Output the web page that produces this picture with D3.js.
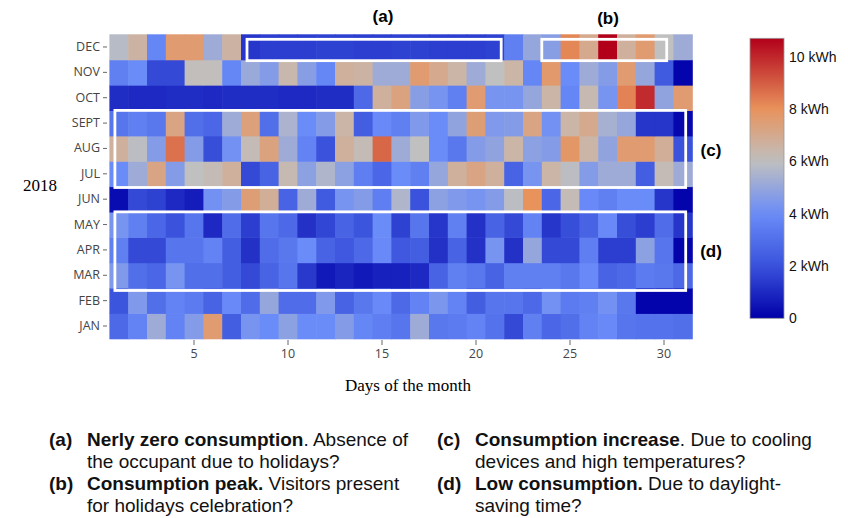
<!DOCTYPE html>
<html>
<head>
<meta charset="utf-8">
<script src="https://cdn.jsdelivr.net/npm/d3@7"></script>
<style>
  html, body { margin: 0; padding: 0; background: #fff; }
  svg { display: block; }
</style>
</head>
<body>
<svg id="chart" width="848" height="518"></svg>
<script>
// ---------- DATA ----------
const months = ["JAN","FEB","MAR","APR","MAY","JUN","JUL","AUG","SEPT","OCT","NOV","DEC"];
const days = d3.range(1, 32);
const xTicks = [5, 10, 15, 20, 25, 30];
const legendTicks = [0, 2, 4, 6, 8, 10];

const jan = [2.8,3.7,5.2,3.7,4.6,7.6,2.4,4.3,4.0,4.8,4.0,4.0,4.6,3.8,3.5,3.2,5.2,3.3,3.4,3.7,3.1,1.8,3.6,2.7,3.0,3.7,3.9,3.2,3.1,3.1,3.0];
const feb = [2.1,4.5,3.0,3.7,3.4,2.6,3.9,2.9,5.0,2.9,2.9,4.5,2.6,3.3,3.9,2.8,3.7,4.4,3.7,2.4,3.2,3.2,2.8,4.2,3.4,3.6,4.2,3.3,0.1,0.1,0.1];
const mar = [4.5,3.0,2.7,4.3,3.0,3.0,2.4,1.8,2.6,3.2,1.4,0.6,0.9,0.6,0.8,0.8,1.0,2.6,3.6,3.3,2.6,3.6,3.6,3.6,3.3,3.9,2.6,2.8,3.4,3.3,2.8];
const apr = [3.6,1.8,1.8,3.2,3.2,3.7,2.4,1.2,2.9,3.3,4.0,2.6,2.2,2.8,3.9,2.2,2.4,1.2,2.6,1.2,4.3,1.2,5.0,1.8,1.8,3.5,1.5,1.5,4.8,3.2,0.1];
const may = [4.3,3.6,2.7,2.0,3.2,1.0,2.9,1.5,3.2,2.8,1.2,1.7,2.6,2.1,4.0,1.6,3.2,1.3,3.6,1.2,2.6,1.8,3.7,1.3,1.9,2.6,3.9,1.9,1.5,2.9,1.3];
const jun = [0.3,1.8,1.6,1.0,0.7,4.2,4.6,7.5,6.8,2.6,5.2,2.3,4.3,4.6,3.5,5.6,2.0,4.8,4.5,4.3,4.6,5.9,8.0,2.7,6.2,3.9,3.6,4.0,4.0,1.3,0.1];
const jul = [4.0,5.2,7.2,4.6,6.0,6.2,6.7,1.8,2.6,6.3,4.8,5.6,4.8,3.5,2.7,4.0,3.6,5.0,6.7,7.2,6.7,2.6,4.3,6.5,5.9,4.6,5.2,5.2,2.4,6.2,5.2];
const aug = [6.7,5.9,4.6,8.6,4.6,1.9,4.2,6.2,7.3,5.2,3.7,2.0,6.7,6.2,8.8,5.2,6.0,4.0,3.3,4.6,4.9,6.5,4.8,4.6,7.8,6.5,4.9,7.6,7.6,6.8,2.0];
const sep = [3.2,3.6,3.3,7.2,3.0,2.7,5.2,7.4,3.0,5.5,4.0,4.6,6.5,2.4,3.9,3.6,4.5,4.0,4.9,7.5,4.5,4.6,7.2,4.2,6.5,7.0,5.4,5.0,1.3,1.3,0.2];
const oct = [1.1,1.0,1.0,1.1,1.1,1.0,1.1,1.1,1.1,1.0,1.0,1.1,1.1,2.8,6.7,7.3,4.7,4.3,3.6,7.6,4.3,4.3,5.0,6.5,3.8,6.3,4.3,8.3,9.9,4.9,7.6];
const nov = [3.6,4.0,1.8,1.8,6.1,6.1,3.8,5.1,4.6,6.4,4.7,3.8,6.7,6.6,5.2,5.2,7.6,7.0,6.5,5.2,6.0,6.5,3.8,7.7,4.0,5.2,4.6,7.6,5.0,2.3,0.1];
const dec = [5.8,6.6,3.8,7.6,7.6,5.2,6.6,1.3,1.5,1.5,1.5,1.6,1.6,1.5,1.5,1.6,1.6,1.5,1.5,1.5,1.6,3.6,5.0,4.7,8.2,7.0,10.7,6.7,7.6,6.0,5.2];

const monthValues = [jan, feb, mar, apr, may, jun, jul, aug, sep, oct, nov, dec];

// annotation boxes: label, first/last day, top/bottom month
const boxes = [
  {id: "(a)", d0: 8,  d1: 21, m0: "DEC",  m1: "DEC"},
  {id: "(b)", d0: 24, d1: 30, m0: "DEC",  m1: "DEC"},
  {id: "(c)", d0: 1,  d1: 31, m0: "SEPT", m1: "JUL"},
  {id: "(d)", d0: 1,  d1: 31, m0: "MAY",  m1: "MAR"}
];

const notes = [
  {id: "(a)", bold: "Nerly zero consumption", rest: ". Absence of", line2: "the occupant due to holidays?"},
  {id: "(b)", bold: "Consumption peak.", rest: " Visitors present", line2: "for holidays celebration?"},
  {id: "(c)", bold: "Consumption increase", rest: ". Due to cooling", line2: "devices and high temperatures?"},
  {id: "(d)", bold: "Low consumption.", rest: " Due to daylight-", line2: "saving time?"}
];

// ---------- BUILD ----------
const cells = [];
months.forEach((m, i) => days.forEach((d, j) => cells.push({month: m, day: d, value: monthValues[i][j]})));

const svg = d3.select("#chart");

const x = d3.scaleBand().domain(days).range([109.4, 692.2]).padding(0);
const y = d3.scaleBand().domain(months.slice().reverse()).range([34.3, 338.7]).padding(0);

const vmax = 10.7;
const color = d3.scaleLinear()
  .domain([0, 2, 4, 6, 8, vmax])
  .range(["#0000a8", "#3a52dc", "#6a8cf8", "#c0c0c0", "#e8925c", "#b2001a"])
  .interpolate(d3.interpolateRgb)
  .clamp(true);

// heat cells
svg.append("g").selectAll("rect").data(cells).join("rect")
  .attr("x", d => x(d.day))
  .attr("y", d => y(d.month))
  .attr("width", x.bandwidth() + 0.6)
  .attr("height", y.bandwidth() + 0.6)
  .attr("fill", d => color(d.value));

// Y axis
const yAxis = svg.append("g").attr("transform", "translate(107,0)")
  .call(d3.axisLeft(y).tickSize(4).tickPadding(3));
yAxis.select(".domain").remove();
yAxis.selectAll(".tick line").attr("stroke", "#666");
yAxis.selectAll(".tick text").attr("fill", "#444")
  .style("font-family", "'Open Sans', 'Liberation Sans', sans-serif").style("font-size", "12.5px");

// X axis
const xAxis = svg.append("g").attr("transform", "translate(0,340)")
  .call(d3.axisBottom(x).tickValues(xTicks).tickSize(5).tickPadding(4));
xAxis.select(".domain").remove();
xAxis.selectAll(".tick line").attr("stroke", "#666");
xAxis.selectAll(".tick text").attr("fill", "#444")
  .style("font-family", "'Open Sans', 'Liberation Sans', sans-serif").style("font-size", "12.5px");

// axis titles
svg.append("text").attr("x", 40).attr("y", 191).attr("text-anchor", "middle")
  .style("font-family", "'Liberation Serif', 'Times New Roman', serif").style("font-size", "17px")
  .text("2018");
svg.append("text").attr("x", 408).attr("y", 391).attr("text-anchor", "middle")
  .style("font-family", "'Liberation Serif', 'Times New Roman', serif").style("font-size", "17px")
  .text("Days of the month");

// annotation boxes (white outlines)
const boxG = svg.append("g");
boxes.forEach(b => {
  const single = b.m0 === b.m1;
  const x0 = x(b.d0) + (b.d0 === 1 ? 5.5 : (b.id === "(a)" ? 6 : 0));
  const x1 = x(b.d1) + x.bandwidth() + (b.d1 === 31 ? -6.5 : (b.id === "(a)" ? -3 : -6.7));
  const y0 = y(b.m0) + (single ? 5 : 0);
  const y1 = y(b.m1) + y.bandwidth() + (single ? 1 : (b.id === "(d)" ? 2.5 : 1));
  boxG.append("rect")
    .attr("x", x0).attr("y", y0)
    .attr("width", x1 - x0).attr("height", y1 - y0)
    .attr("fill", "none").attr("stroke", "#fff").attr("stroke-width", 2.8);
});

// box labels
const lblFont = "'Liberation Sans', Arial, sans-serif";
svg.append("text").attr("x", 383).attr("y", 22).attr("text-anchor", "middle")
  .style("font-family", lblFont).style("font-size", "17px").style("font-weight", "bold").text("(a)");
svg.append("text").attr("x", 608).attr("y", 24).attr("text-anchor", "middle")
  .style("font-family", lblFont).style("font-size", "17px").style("font-weight", "bold").text("(b)");
svg.append("text").attr("x", 711).attr("y", 156).attr("text-anchor", "middle")
  .style("font-family", lblFont).style("font-size", "17px").style("font-weight", "bold").text("(c)");
svg.append("text").attr("x", 711).attr("y", 257).attr("text-anchor", "middle")
  .style("font-family", lblFont).style("font-size", "17px").style("font-weight", "bold").text("(d)");

// ---------- COLOR BAR ----------
const lg = svg.append("g");
const cbX = 750, cbW = 34;
const cy = d3.scaleLinear().domain([0, vmax]).range([318.3, 38.3]);
const defs = svg.append("defs");
const grad = defs.append("linearGradient").attr("id", "cbgrad")
  .attr("x1", 0).attr("y1", 1).attr("x2", 0).attr("y2", 0);
d3.range(0, 21).forEach(i => {
  const v = vmax * i / 20;
  grad.append("stop").attr("offset", i / 20).attr("stop-color", color(v));
});
lg.append("rect").attr("x", cbX).attr("y", cy(vmax)).attr("width", cbW)
  .attr("height", cy(0) - cy(vmax)).attr("fill", "url(#cbgrad)")
  .attr("stroke", "#999").attr("stroke-width", 0.8);
lg.selectAll("text.cb").data(legendTicks).join("text").attr("class", "cb")
  .attr("x", cbX + cbW + 5).attr("y", d => cy(d)).attr("dy", "0.35em")
  .style("font-family", "'Liberation Sans', Arial, sans-serif").style("font-size", "14px")
  .attr("fill", "#111")
  .text(d => d === 0 ? "0" : d + " kWh");

// ---------- NOTES ----------
const noteFont = "'Liberation Sans', Arial, sans-serif";
const cols = [49, 437];
const rows = [446, 490];
notes.forEach((n, i) => {
  const cx = cols[Math.floor(i / 2)];
  const ry = rows[i % 2];
  const g = svg.append("g").style("font-family", noteFont).style("font-size", "19px").attr("fill", "#111");
  g.append("text").attr("x", cx).attr("y", ry).style("font-weight", "bold").text(n.id);
  const t = g.append("text").attr("x", cx + 38).attr("y", ry);
  t.append("tspan").style("font-weight", "bold").text(n.bold);
  t.append("tspan").text(n.rest);
  g.append("text").attr("x", cx + 38).attr("y", ry + 21.5).text(n.line2);
});
</script>
</body>
</html>
